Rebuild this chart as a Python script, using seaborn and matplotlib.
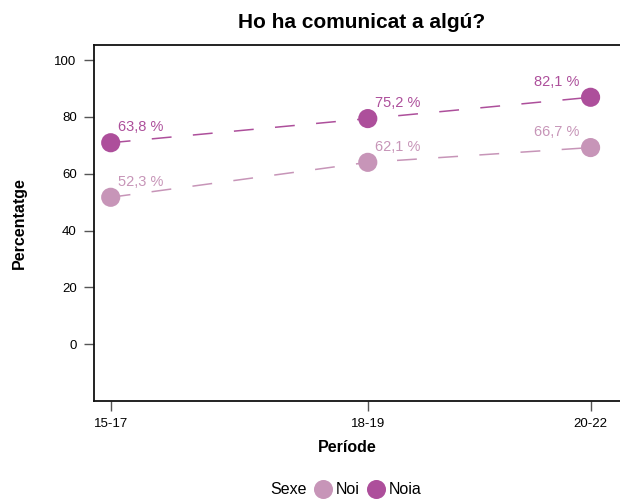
import numpy as np
import pandas as pd
import matplotlib
matplotlib.use("Agg")
import matplotlib.pyplot as plt
from matplotlib.lines import Line2D
import seaborn as sns

# ── data ──
periods = ["15-17", "18-19", "20-22"]
period_pos = [16, 19, 21.6]
sexes = ["Noi", "Noia"]
noi_values = [51.7, 64.0, 69.2]
noia_values = [70.9, 79.4, 86.9]
noi_labels = ["52,3 %", "62,1 %", "66,7 %"]
noia_labels = ["63,8 %", "75,2 %", "82,1 %"]
palette = {"Noi": "#c795b8", "Noia": "#ad4f9b"}

df = pd.DataFrame({
    "periode": period_pos * 2,
    "valor": noi_values + noia_values,
    "etiqueta": noi_labels + noia_labels,
    "sexe": ["Noi"] * 3 + ["Noia"] * 3,
})

sns.set_theme(style="white")
plt.rcParams["font.family"] = ["Liberation Sans", "DejaVu Sans"]
plt.rcParams["text.color"] = "black"

fig = plt.figure(figsize=(6.2, 5), dpi=100)
ax = fig.add_axes([94 / 620, 1 - 401 / 500, 536 / 620, 356 / 500])

sns.lineplot(data=df, x="periode", y="valor", hue="sexe", palette=palette,
             linewidth=1.1, linestyle=(0, (13, 14)), legend=False, ax=ax)
sns.scatterplot(data=df, x="periode", y="valor", hue="sexe", palette=palette,
                s=190, linewidth=0, legend=False, ax=ax, zorder=3)

last = max(period_pos)
for _, r in df.iterrows():
    right = r["periode"] == last
    ax.annotate(r["etiqueta"], (r["periode"], r["valor"]),
                xytext=(-8 if right else 5, 11), textcoords="offset points",
                ha="right" if right else "left", va="center",
                fontsize=10.5, color=palette[r["sexe"]])

ax.set_xlim(15.805, 22.06)
ax.set_ylim(-20, 105.3)
ax.set_xticks(period_pos)
ax.set_xticklabels(periods)
ax.set_yticks([0, 20, 40, 60, 80, 100])
ax.tick_params(axis="both", which="major", length=7.5, width=1, color="#555555",
               labelsize=9.5, labelcolor="black", left=True, bottom=True, pad=5)
for side in ["left", "bottom", "top"]:
    ax.spines[side].set_visible(True)
    ax.spines[side].set_color("#111111")
    ax.spines[side].set_linewidth(1.3)
ax.spines["right"].set_visible(False)
ax.set_xlabel("")
ax.set_ylabel("")

fig.text(362 / 620, 1 - 22 / 500, "Ho ha comunicat a algú?", ha="center", va="center",
         fontsize=15, fontweight="bold")
fig.text(347 / 620, 1 - 447 / 500, "Període", ha="center", va="center",
         fontsize=11.5, fontweight="bold")
fig.text(19 / 620, 1 - 223 / 500, "Percentatge", ha="center", va="center",
         rotation=90, fontsize=11.5, fontweight="bold")

# legend at bottom
fig.text(307 / 620, 1 - 490 / 500, "Sexe", ha="right", va="center", fontsize=11.5)
handles = [Line2D([], [], marker="o", linestyle="none", markersize=13.7,
                  markerfacecolor=palette[s], markeredgewidth=0) for s in sexes]
fig.legend(handles, sexes, ncol=2, loc="center left",
           bbox_to_anchor=(313 / 620, 1 - 490 / 500), frameon=False,
           fontsize=11.5, handlelength=1.2, handletextpad=0.2,
           columnspacing=0.45, borderpad=0, borderaxespad=0)

fig.savefig("out.png", dpi=100)
